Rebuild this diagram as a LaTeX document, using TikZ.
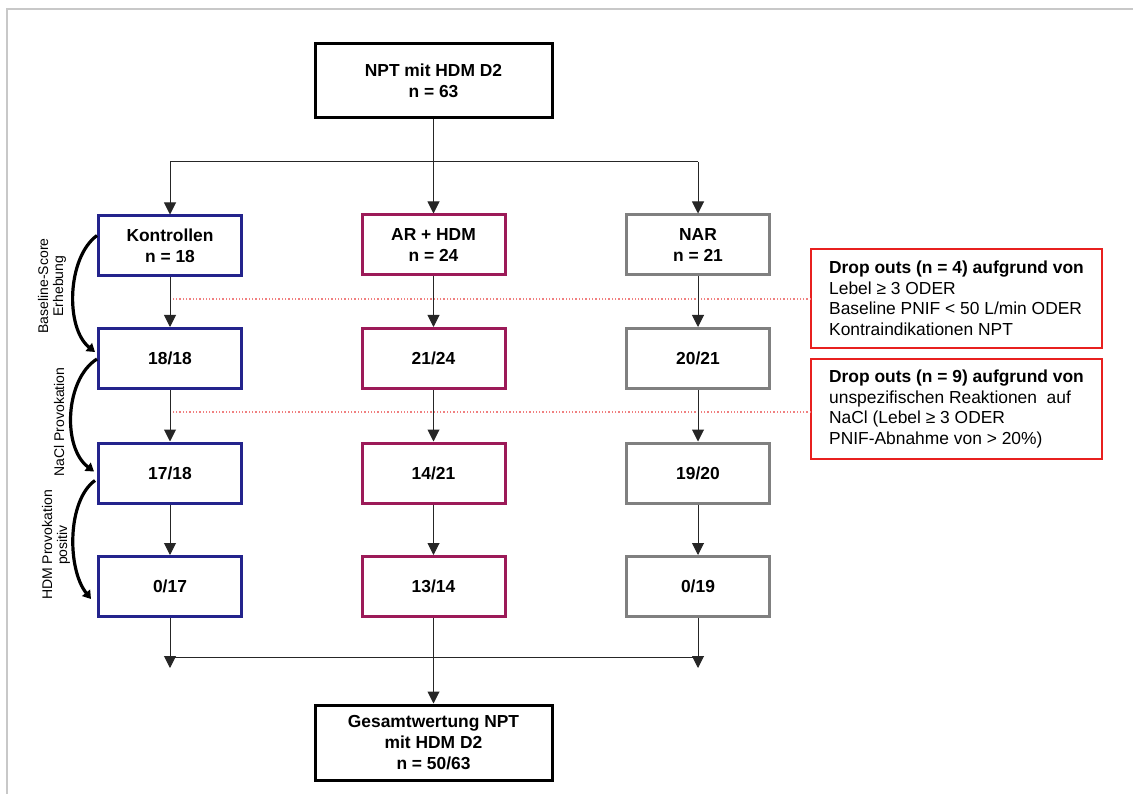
\documentclass[tikz,border=0pt]{standalone}
\usepackage{fontspec}
\setmainfont{Liberation Sans}
\usetikzlibrary{arrows.meta,calc}
\definecolor{kblue}{HTML}{23238C}
\definecolor{amaroon}{HTML}{9C1A58}
\definecolor{ngray}{HTML}{808080}
\definecolor{dred}{HTML}{E8201F}
\definecolor{dotred}{HTML}{F08080}
\definecolor{framegray}{HTML}{C8C8C8}
\tikzset{
  box/.style={draw, line width=3pt, minimum width=143pt, minimum height=60pt, inner sep=2pt,
    align=center, font=\fontsize{17.4}{21}\selectfont\bfseries},
  bigbox/.style={box, draw=black, minimum width=237pt, minimum height=74pt},
  kbox/.style={box, draw=kblue},
  abox/.style={box, draw=amaroon},
  nbox/.style={box, draw=ngray},
  redbox/.style={draw=dred, line width=2pt, minimum width=291pt, inner xsep=8pt,
    align=left, font=\fontsize{17.4}{20.5}\selectfont},
  arr/.style={draw=black!85, line width=1pt, -{Triangle[width=12pt,length=12pt]}},
  line/.style={draw=black!85, line width=1pt},
  curv/.style={draw=black, line width=3.2pt, -{Triangle[width=10pt,length=8pt]}},
  dotl/.style={draw=dotred, line width=1.3pt, dotted},
  sidelbl/.style={rotate=90, align=center, font=\fontsize{14}{15}\selectfont},
}
\begin{document}
\begin{tikzpicture}[x=1pt,y=-1pt]
\useasboundingbox (0,0) rectangle (1133,794);
% frame
\draw[framegray, line width=2pt] (7,794) -- (7,9) -- (1133,9);

% nodes
\node[bigbox] (top) at (433.5,81) {NPT mit HDM D2\\n = 63};

\node[kbox] (k1) at (170,246) {Kontrollen\\n = 18};
\node[abox] (a1) at (433.5,245) {AR + HDM\\n = 24};
\node[nbox] (n1) at (698,245) {NAR\\n = 21};

\node[kbox] (k2) at (170,358.5) {18/18};
\node[abox] (a2) at (433.5,358.5) {21/24};
\node[nbox] (n2) at (698,358.5) {20/21};

\node[kbox] (k3) at (170,473) {17/18};
\node[abox] (a3) at (433.5,473) {14/21};
\node[nbox] (n3) at (698,473) {19/20};

\node[kbox] (k4) at (170,586.5) {0/17};
\node[abox] (a4) at (433.5,586.5) {13/14};
\node[nbox] (n4) at (698,586.5) {0/19};

\node[bigbox, minimum height=75pt] (bot) at (433.5,742.5) {Gesamtwertung NPT\\mit HDM D2\\n = 50/63};

\node[redbox, minimum height=99pt] (r1) at (956.5,298.5)
  {\textbf{Drop outs (n = 4) aufgrund von}\\Lebel ≥ 3 ODER\\Baseline PNIF < 50 L/min ODER\\Kontraindikationen NPT};
\node[redbox, minimum height=100pt] (r2) at (956.5,409)
  {\textbf{Drop outs (n = 9) aufgrund von}\\unspezifischen Reaktionen~ auf\\NaCl (Lebel ≥ 3 ODER\\PNIF-Abnahme von > 20\%)};

% dotted red lines
\coordinate (d1) at (811,299);
\coordinate (d2) at (811,412);
\draw[dotl] (d1) -- (d1 -| k1.south);
\draw[dotl] (d2) -- (d2 -| k1.south);

% top branching
\coordinate (br) at (433.5,162);
\draw[arr] (top.south) -- (a1.north);
\draw[line] (br -| k1.north) -- (br -| n1.north);
\draw[arr] (br -| k1.north) -- (k1.north);
\draw[arr] (br -| n1.north) -- (n1.north);

% column arrows
\foreach \c in {k,a,n}{
  \draw[arr] (\c1.south) -- (\c2.north);
  \draw[arr] (\c2.south) -- (\c3.north);
  \draw[arr] (\c3.south) -- (\c4.north);
}

% merge
\coordinate (mg) at (433.5,657);
\coordinate (mk) at (170,668);
\coordinate (mn) at (698,668);
\draw[line] (mg -| k4.south) -- (mg -| n4.south);
\draw[arr] (k4.south) -- (mk);
\draw[arr] (n4.south) -- (mn);
\draw[arr] (a4.south) -- (bot.north);

% side curved arrows
\draw[curv] ([yshift=-21pt]k1.north west) .. controls +(-30,22) and +(-30,-24) .. ([xshift=-2pt,yshift=-25pt]k2.north west);
\draw[curv] ([yshift=-32pt]k2.north west) .. controls +(-32,20) and +(-32,-24) .. ([xshift=-3pt,yshift=-30pt]k3.north west);
\draw[curv] ([xshift=-2pt,yshift=-39pt]k3.north west) .. controls +(-28,20) and +(-24,-30) .. ([xshift=-6pt,yshift=-44pt]k4.north west);

% side labels
\node[sidelbl] (l1) at (52,286) {Baseline-Score\\Erhebung};
\node[sidelbl] (l2) at (59,422) {NaCl Provokation};
\node[sidelbl] (l3) at (56,545) {HDM Provokation\\positiv};
\end{tikzpicture}
\end{document}
